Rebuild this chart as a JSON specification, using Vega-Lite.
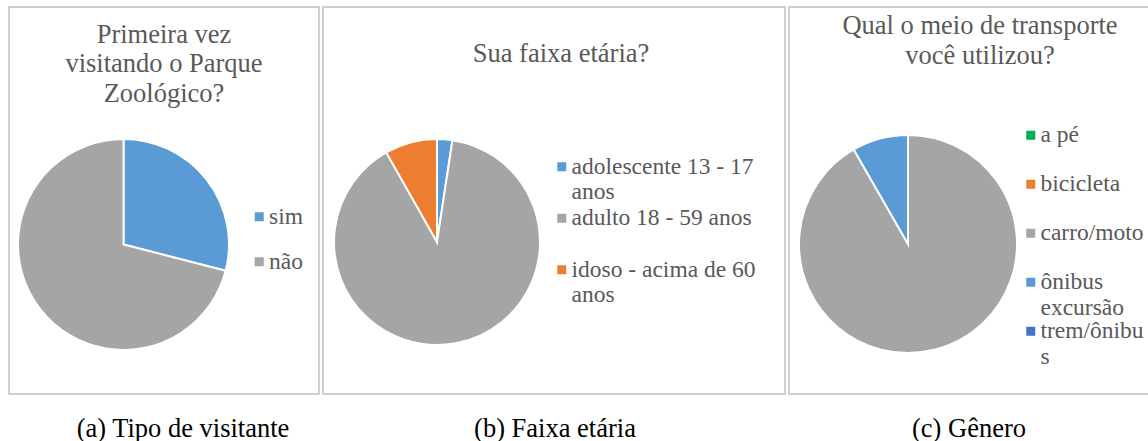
{
  "$schema": "https://vega.github.io/schema/vega-lite/v6.json",
  "padding": {"left": 8, "top": 6, "right": 0, "bottom": 0},
  "background": "white",
  "resolve": {"scale": {"color": "independent"}, "legend": {"color": "independent"}},
  "config": {
    "view": {"stroke": "#CFCFCF", "strokeWidth": 2},
    "font": "Liberation Serif",
    "title": {"font": "Liberation Serif", "fontWeight": "normal", "color": "#595959", "fontSize": 26.5, "lineHeight": 29.5, "anchor": "middle"},
    "legend": {"labelFont": "Liberation Serif", "labelFontSize": 23.5, "labelColor": "#595959", "symbolType": "square", "symbolSize": 81, "symbolStrokeWidth": 0, "labelLimit": 400, "labelOffset": -2, "gridAlign": "all", "orient": "none", "title": null},
    "concat": {"spacing": 2}
  },
  "hconcat": [
    {
      "title": {"text": "(a) Tipo de visitante", "orient": "bottom", "anchor": "middle", "frame": "bounds", "color": "black", "fontSize": 26.5, "offset": 21, "dx": 19},
      "vconcat": [
        {
          "width": 310,
          "height": 387,
          "view": {"stroke": "#CFCFCF", "strokeWidth": 2},
          "title": {"text": ["Primeira vez", "visitando o Parque", "Zoológico?"], "offset": -100},
          "data": {"values": [
            {"categoria": "sim", "valor": 29, "ordem": 1},
            {"categoria": "não", "valor": 71, "ordem": 2}
          ]},
          "mark": {"type": "arc", "outerRadius": 105.5, "stroke": "white", "strokeWidth": 2, "x": 114.5, "y": 237.5},
          "encoding": {
            "theta": {"field": "valor", "type": "quantitative"},
            "order": {"field": "ordem", "type": "quantitative"},
            "color": {"field": "categoria", "type": "nominal",
              "scale": {"domain": ["sim", "não"], "range": ["#5B9BD5", "#A5A5A5"]},
              "legend": {"legendX": 238.5, "legendY": 198, "rowPadding": 20}}
          }
        }
      ]
    },
    {
      "title": {"text": "(b) Faixa etária", "orient": "bottom", "anchor": "middle", "frame": "bounds", "color": "black", "fontSize": 26.5, "offset": 21, "dx": 1},
      "vconcat": [
        {
          "width": 462,
          "height": 387,
          "view": {"stroke": "#CFCFCF", "strokeWidth": 2},
          "title": {"text": "Sua faixa etária?", "offset": -60, "dx": 7},
          "data": {"values": [
            {"categoria": "adolescente 13 - 17 anos", "valor": 2.4, "ordem": 1},
            {"categoria": "adulto 18 - 59 anos", "valor": 89.4, "ordem": 2},
            {"categoria": "idoso - acima de 60 anos", "valor": 8.2, "ordem": 3}
          ]},
          "mark": {"type": "arc", "outerRadius": 103, "stroke": "white", "strokeWidth": 2, "x": 114, "y": 235},
          "encoding": {
            "theta": {"field": "valor", "type": "quantitative"},
            "order": {"field": "ordem", "type": "quantitative"},
            "color": {"field": "categoria", "type": "nominal",
              "scale": {"domain": ["adolescente 13 - 17 anos", "adulto 18 - 59 anos", "idoso - acima de 60 anos"], "range": ["#5B9BD5", "#A5A5A5", "#ED7D31"]},
              "legend": {"legendX": 227, "legendY": 148, "rowPadding": 1.5,
                "labelExpr": "datum.label == 'adolescente 13 - 17 anos' ? ['adolescente 13 - 17', 'anos'] : datum.label == 'idoso - acima de 60 anos' ? ['idoso - acima de 60', 'anos'] : datum.label"}}
          }
        }
      ]
    },
    {
      "title": {"text": "(c) Gênero", "orient": "bottom", "anchor": "middle", "frame": "bounds", "color": "black", "fontSize": 26.5, "offset": 21, "dx": -1},
      "vconcat": [
        {
          "width": 362,
          "height": 387,
          "view": {"stroke": "#CFCFCF", "strokeWidth": 2},
          "title": {"text": ["Qual o meio de transporte", "você utilizou?"], "offset": -62, "dx": 10},
          "data": {"values": [
            {"categoria": "a pé", "valor": 0, "ordem": 1},
            {"categoria": "bicicleta", "valor": 0, "ordem": 2},
            {"categoria": "carro/moto", "valor": 91.7, "ordem": 3},
            {"categoria": "ônibus excursão", "valor": 8.3, "ordem": 4},
            {"categoria": "trem/ônibus", "valor": 0, "ordem": 5}
          ]},
          "mark": {"type": "arc", "outerRadius": 109, "stroke": "white", "strokeWidth": 2, "x": 119, "y": 237},
          "encoding": {
            "theta": {"field": "valor", "type": "quantitative"},
            "order": {"field": "ordem", "type": "quantitative"},
            "color": {"field": "categoria", "type": "nominal",
              "scale": {"domain": ["a pé", "bicicleta", "carro/moto", "ônibus excursão", "trem/ônibus"], "range": ["#00B050", "#ED7D31", "#A5A5A5", "#5B9BD5", "#4472C4"]},
              "legend": {"legendX": 230, "legendY": 116.5, "rowPadding": -3,
                "labelExpr": "datum.label == 'ônibus excursão' ? ['ônibus', 'excursão'] : datum.label == 'trem/ônibus' ? ['trem/ônibu', 's'] : datum.label"}}
          }
        }
      ]
    }
  ]
}
